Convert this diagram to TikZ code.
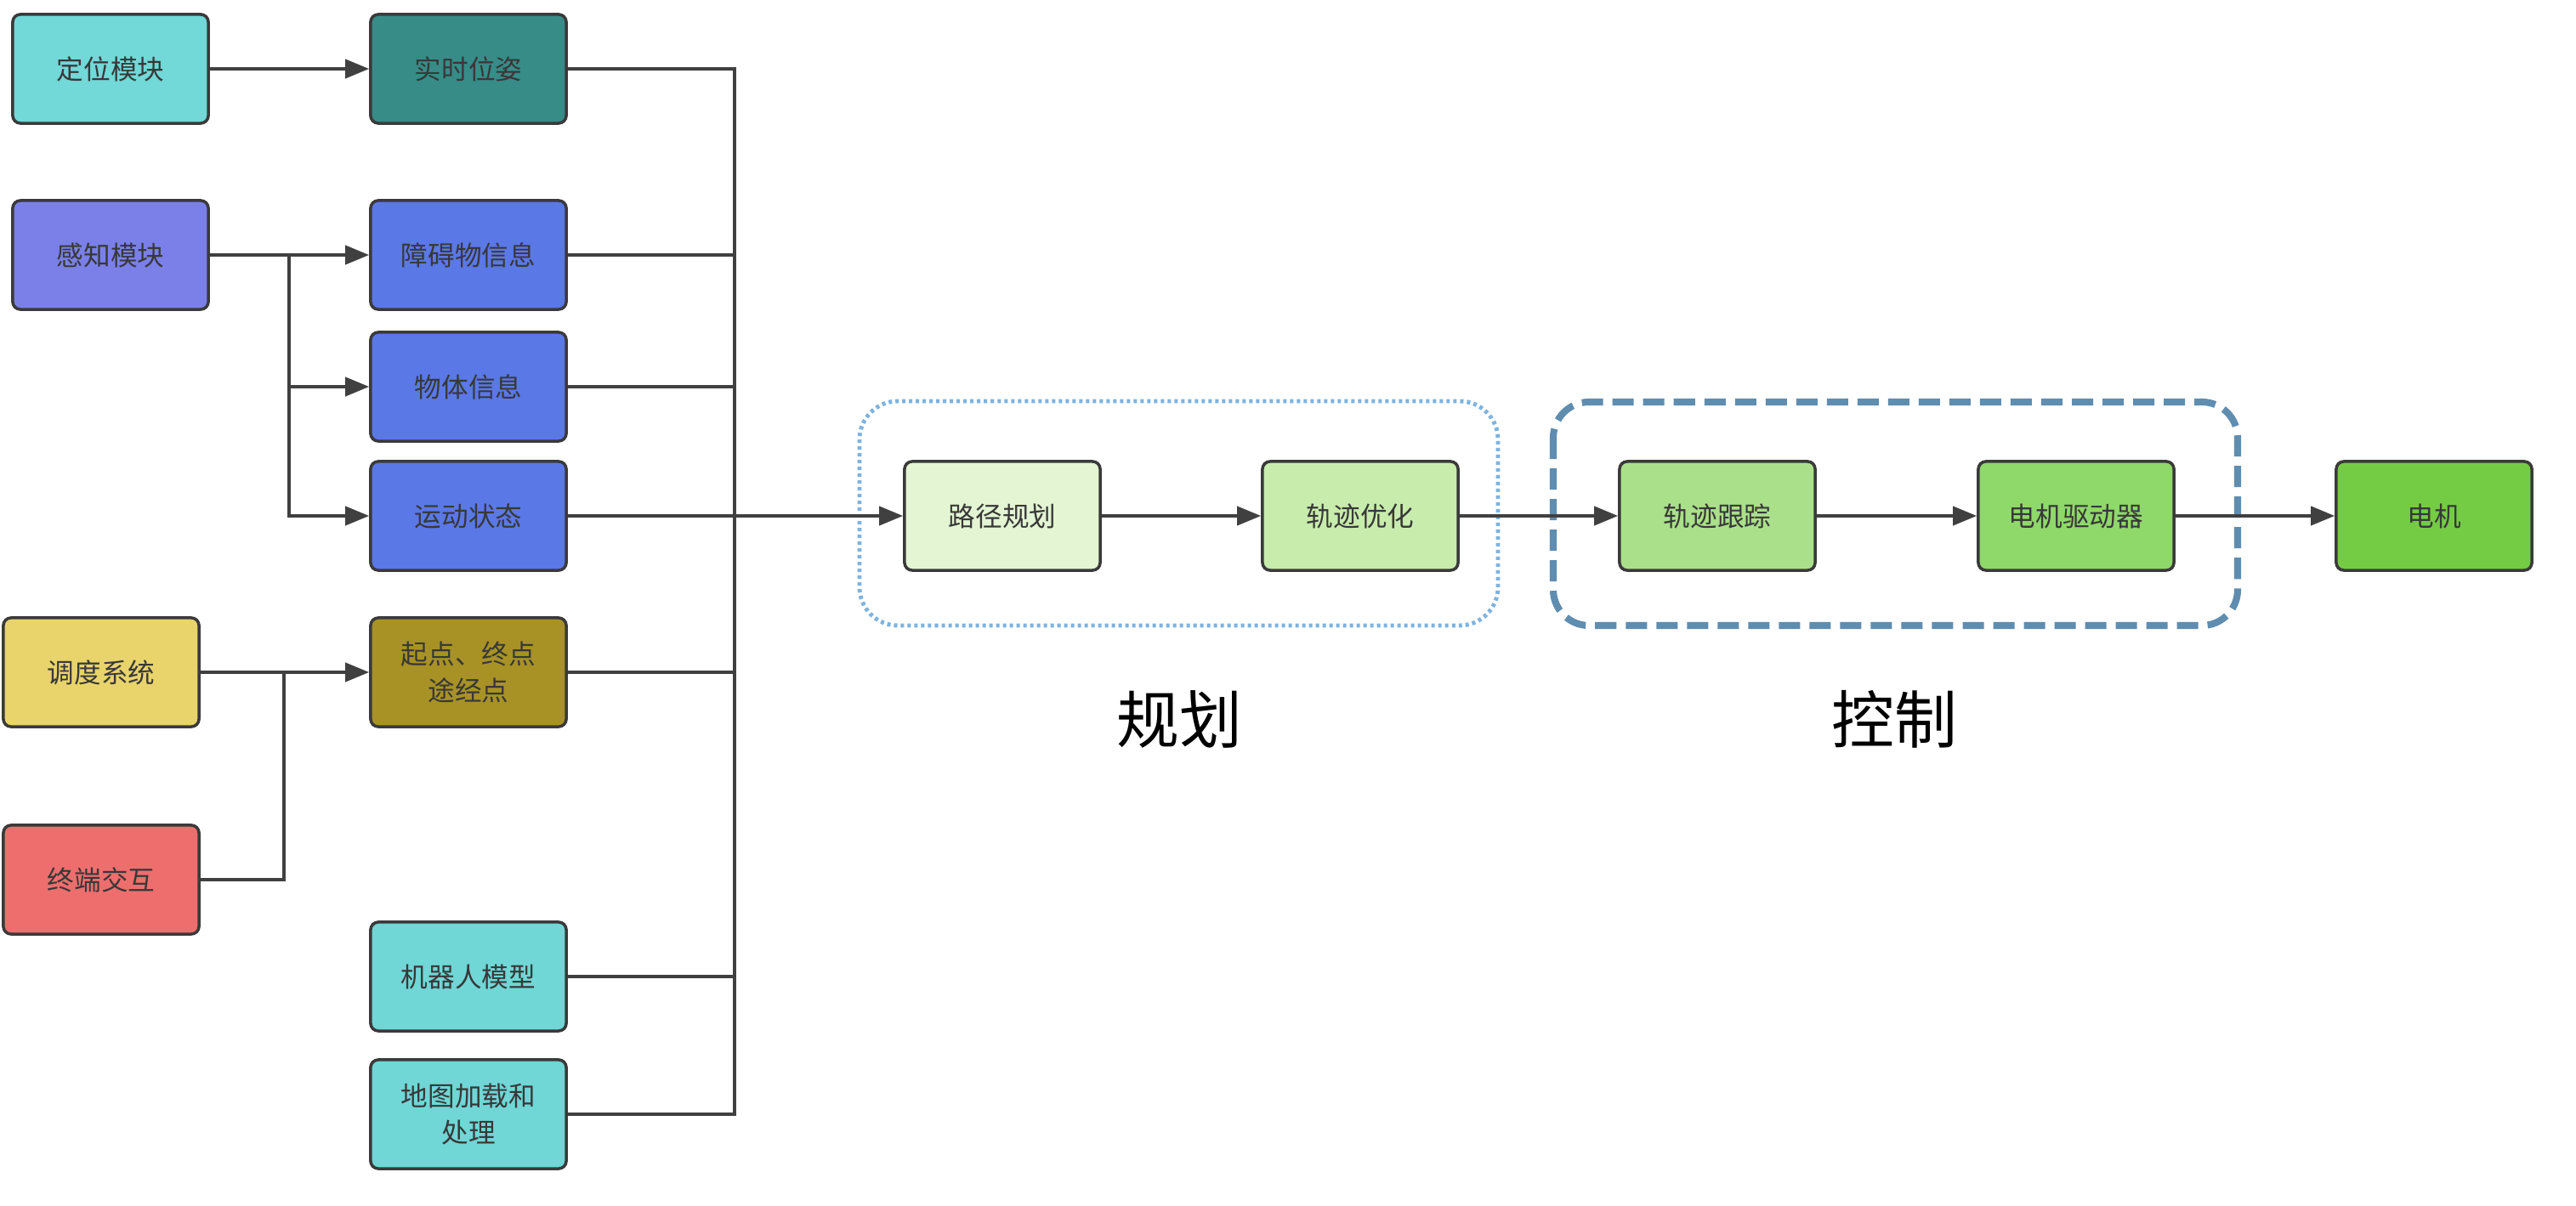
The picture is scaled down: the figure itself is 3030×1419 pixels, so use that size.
\documentclass[tikz,border=0pt]{standalone}
\usepackage{fontspec}
\newfontfamily\cjk{Noto Sans CJK SC}
\usetikzlibrary{arrows.meta}
\definecolor{boxline}{HTML}{3A3A3A}
\definecolor{lineclr}{HTML}{404040}
\definecolor{txt}{HTML}{383838}
\definecolor{cLoc}{HTML}{72D8D8}
\definecolor{cPose}{HTML}{378C88}
\definecolor{cPer}{HTML}{7A80E8}
\definecolor{cPerOut}{HTML}{5A78E6}
\definecolor{cSch}{HTML}{E8D46A}
\definecolor{cPts}{HTML}{A89226}
\definecolor{cTerm}{HTML}{EE6E6E}
\definecolor{cCyan}{HTML}{70D6D6}
\definecolor{g1}{HTML}{E3F5D3}
\definecolor{g2}{HTML}{C8ECAC}
\definecolor{g3}{HTML}{AAE08A}
\definecolor{g4}{HTML}{8FD86A}
\definecolor{g5}{HTML}{74CC44}
\definecolor{dotblue}{HTML}{7DB3E0}
\definecolor{dashblue}{HTML}{5F8DB0}
\begin{document}
\begin{tikzpicture}[x=0.01cm,y=-0.01cm,
  box/.style={draw=boxline, line width=1pt, rounded corners=0.09cm,
    minimum width=2.3cm, minimum height=1.28cm, inner sep=0pt,
    font=\cjk\fontsize{9}{12.3}\selectfont, text=txt, align=center},
  conn/.style={draw=lineclr, line width=1.1pt},
  arr/.style={conn, -{Triangle[length=0.28cm,width=0.22cm]}},
  grouplabel/.style={font=\cjk\fontsize{21}{24}\selectfont, text=black}]
\fill[white] (0,0) rectangle (3030,1419);
\useasboundingbox (0,0) rectangle (3030,1419);

% group frames
\draw[dotblue, line width=1.4pt, dash pattern=on 0.04cm off 0.04cm, rounded corners=0.45cm]
  (1011,472) rectangle (1762,736);
\draw[dashblue, line width=2.3pt, dash pattern=on 0.25cm off 0.11cm, rounded corners=0.42cm]
  (1827,473) rectangle (2632,736);

% left column
\node[box, fill=cLoc] (loc) at (130,81) {定位模块};
\node[box, fill=cPer] (per) at (130,300) {感知模块};
\node[box, fill=cSch] (sch) at (119,791) {调度系统};
\node[box, fill=cTerm] (term) at (119,1035) {终端交互};

% second column
\node[box, fill=cPose] (pose) at (551,81) {实时位姿};
\node[box, fill=cPerOut] (obs) at (551,300) {障碍物信息};
\node[box, fill=cPerOut] (obj) at (551,455) {物体信息};
\node[box, fill=cPerOut] (mot) at (551,607) {运动状态};
\node[box, fill=cPts] (pts) at (551,791) {起点、终点\\途经点};
\node[box, fill=cCyan] (robot) at (551,1149) {机器人模型};
\node[box, fill=cCyan] (map) at (551,1311) {地图加载和\\处理};

% pipeline
\node[box, fill=g1] (path) at (1179,607) {路径规划};
\node[box, fill=g2] (opt) at (1600,607) {轨迹优化};
\node[box, fill=g3] (track) at (2020,607) {轨迹跟踪};
\node[box, fill=g4] (drv) at (2442,607) {电机驱动器};
\node[box, fill=g5] (motor) at (2863,607) {电机};

\node[grouplabel] (lplan) at (1387,846) {规划};
\node[grouplabel] (lctrl) at (2228,846) {控制};

% coordinates
\coordinate (perx) at (340,300);
\coordinate (schx) at (334,791);
\coordinate (busT) at (864,81);
\coordinate (busB) at (864,1311);

% connectors
\draw[arr] (loc) -- (pose);
\draw[arr] (per) -- (obs);
\draw[arr] (perx) |- (obj.west);
\draw[arr] (perx) |- (mot.west);
\draw[arr] (sch) -- (pts);
\draw[conn] (term.east) -| (schx);

\draw[conn] (pose.east) -- (busT) -- (busB) -- (map.east);
\draw[conn] (obs.east) -- (obs.east -| busT);
\draw[conn] (obj.east) -- (obj.east -| busT);
\draw[conn] (pts.east) -- (pts.east -| busT);
\draw[conn] (robot.east) -- (robot.east -| busT);
\draw[arr] (mot.east) -- (path.west);

\draw[arr] (path) -- (opt);
\draw[arr] (opt) -- (track);
\draw[arr] (track) -- (drv);
\draw[arr] (drv) -- (motor);
\end{tikzpicture}
\end{document}
